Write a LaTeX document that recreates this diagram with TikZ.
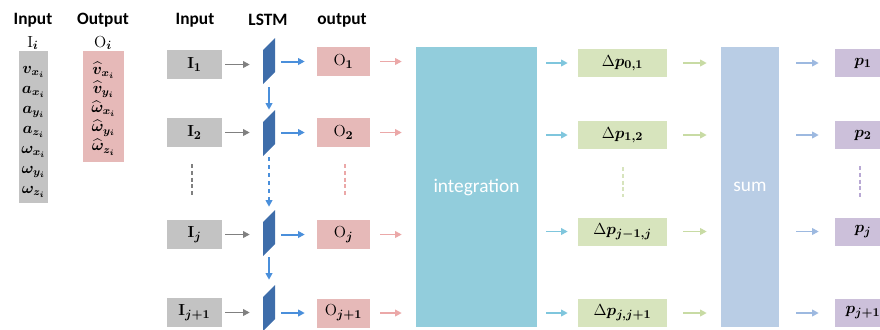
\documentclass[tikz,border=0pt]{standalone}
\usepackage{amsmath}
\usepackage{bm}
\usepackage[no-math]{fontspec}
\setmainfont{Carlito}
\usetikzlibrary{arrows.meta}

\definecolor{cgray}{HTML}{C3C3C3}
\definecolor{cpink}{HTML}{E6B9B8}
\definecolor{clstm}{HTML}{3E6DAA}
\definecolor{cinteg}{HTML}{92CDDC}
\definecolor{cgreen}{HTML}{D7E4BD}
\definecolor{csum}{HTML}{B9CDE5}
\definecolor{cpurple}{HTML}{CCC0DA}
\definecolor{agray}{HTML}{808080}
\definecolor{ablue}{HTML}{4A8FDB}
\definecolor{apink}{HTML}{EBA8A8}
\definecolor{acyan}{HTML}{7FC6DD}
\definecolor{agreen}{HTML}{C8DBA4}
\definecolor{alblue}{HTML}{9DB9E0}
\definecolor{dpurple}{HTML}{B8A8D4}

\tikzset{
  txt/.style={font=\fontsize{12.5}{14}\selectfont},
  head/.style={font=\bfseries\fontsize{13}{15}\selectfont},
  box/.style={txt, inner sep=0pt, minimum height=21.75pt},
  ibox/.style={box, fill=cgray, minimum width=41.25pt},
  obox/.style={box, fill=cpink, minimum width=39.75pt},
  dbox/.style={box, fill=cgreen, minimum width=66.75pt, minimum height=21pt},
  pbox/.style={box, fill=cpurple, minimum width=42pt, minimum height=21pt},
  bigbox/.style={inner sep=0pt, minimum height=210pt, text=white,
    font=\fontsize{14.5}{17}\selectfont},
  lstm/.style={inner sep=0pt, minimum width=9pt, minimum height=34.5pt,
    path picture={\fill[clstm] (path picture bounding box.south west)
      -- ++(0,25.5pt) -- (path picture bounding box.north east)
      -- ++(0,-25.5pt) -- cycle;}},
  arr/.style={line width=1.2pt, -{Triangle[length=5pt,width=5pt]}},
  garr/.style={arr, agray, shorten <=2.25pt, shorten >=9.75pt},
  barr/.style={arr, ablue, line width=1.5pt, shorten <=4.5pt, shorten >=9pt},
  parr/.style={arr, apink, shorten <=7.5pt, shorten >=10.5pt},
  carr/.style={arr, acyan, shorten <=6.75pt, shorten >=7.5pt},
  grarr/.style={arr, agreen, shorten <=12pt, shorten >=10.5pt},
  lbarr/.style={arr, alblue, shorten <=12.75pt, shorten >=12pt},
  varr/.style={arr, ablue, line width=1.5pt},
  dline/.style={line width=1.5pt, dash pattern=on 3pt off 2pt},
  varlist/.style={anchor=base, inner sep=0pt},
}

\begin{document}
\begin{tikzpicture}[x=0.75pt, y=-0.75pt]
\useasboundingbox (0,0) rectangle (880,329);

% ---- variable lists ----
\node[head] (hin) at (33,20) {Input};
\node[txt] (hini) at (33,43) {$\mathrm{I}_{\bm{i}}$};
\node[head] (hout) at (103,20) {Output};
\node[txt] (houti) at (103,43) {$\mathrm{O}_{\bm{i}}$};

\node[fill=cgray, inner sep=0pt, minimum width=21.75pt, minimum height=114pt] (inlist) at (33.5,127) {};
\node[fill=cpink, inner sep=0pt, minimum width=30.75pt, minimum height=83.25pt] (outlist) at (103.5,106.5) {};

\node[varlist, font=\fontsize{12}{15}\selectfont] (invars) at (33.5,73)
  {\begin{tabular}[t]{@{}c@{}}
    $\bm{v_{x_i}}$\\ $\bm{a_{x_i}}$\\ $\bm{a_{y_i}}$\\ $\bm{a_{z_i}}$\\
    $\bm{\omega_{x_i}}$\\ $\bm{\omega_{y_i}}$\\ $\bm{\omega_{z_i}}$
  \end{tabular}};
\node[varlist, font=\fontsize{12}{14.4}\selectfont] (outvars) at (103.5,74)
  {\begin{tabular}[t]{@{}c@{}}
    $\widehat{\bm{v}}_{\bm{x_i}}$\\ $\widehat{\bm{v}}_{\bm{y_i}}$\\
    $\widehat{\bm{\omega}}_{\bm{x_i}}$\\ $\widehat{\bm{\omega}}_{\bm{y_i}}$\\
    $\widehat{\bm{\omega}}_{\bm{z_i}}$
  \end{tabular}};

% ---- column headers ----
\node[head] (hI) at (195,20) {Input};
\node[head] (hL) at (268,20) {LSTM};
\node[head] (hO) at (342,20) {output};

% ---- inputs ----
\node[ibox] (i1) at (194.5,64.5)  {$\mathbf{I}_{\mathbf{1}}$};
\node[ibox] (i2) at (194.5,132.5) {$\mathbf{I}_{\mathbf{2}}$};
\node[ibox] (ij) at (194.5,234.5) {$\mathbf{I}_{\bm{j}}$};
\node[ibox] (ik) at (194.5,312.5) {$\mathbf{I}_{\bm{j+1}}$};

% ---- LSTM cells ----
\node[lstm] (l1) at (269,61)  {};
\node[lstm] (l2) at (269,133) {};
\node[lstm] (lj) at (269,233) {};
\node[lstm] (lk) at (269,308) {};

% ---- network outputs ----
\node[obox] (o1) at (343.5,61.5)  {$\mathrm{O}_{\bm{1}}$};
\node[obox] (o2) at (343.5,132.5) {$\mathrm{O}_{\bm{2}}$};
\node[obox] (oj) at (343.5,234.5) {$\mathrm{O}_{\bm{j}}$};
\node[obox] (ok) at (343.5,313)   {$\mathrm{O}_{\bm{j+1}}$};

% ---- integration and summation ----
\node[bigbox, fill=cinteg, minimum width=90.75pt] (integ) at (476.5,187) {integration};
\node[bigbox, fill=csum, minimum width=43.5pt] (sum) at (750,187) {sum};

\node[dbox] (d1) at (622.5,63)    {$\Delta\bm{p}_{\bm{0,1}}$};
\node[dbox] (d2) at (622.5,135)   {$\Delta\bm{p}_{\bm{1,2}}$};
\node[dbox] (dj) at (622.5,231.5) {$\Delta\bm{p}_{\bm{j-1,j}}$};
\node[dbox] (dk) at (622.5,313)   {$\Delta\bm{p}_{\bm{j,j+1}}$};

\node[pbox] (p1) at (863,63)    {$\bm{p}_{\bm{1}}$};
\node[pbox] (p2) at (863,135)   {$\bm{p}_{\bm{2}}$};
\node[pbox] (pj) at (863,231.5) {$\bm{p}_{\bm{j}}$};
\node[pbox] (pk) at (863,313)   {$\bm{p}_{\bm{j+1}}$};

% ---- row connectors ----
\foreach \r in {1,2,j,k}{
  \draw[garr] (i\r.east) -- (l\r.west |- i\r.east);
  \draw[barr] (l\r.east |- o\r.west) -- (o\r.west);
  \draw[parr] (o\r.east) -- (integ.west |- o\r.east);
  \draw[carr] (integ.east |- d\r.west) -- (d\r.west);
  \draw[grarr] (d\r.east) -- (sum.west |- d\r.east);
  \draw[lbarr] (sum.east |- p\r.west) -- (p\r.west);
}

% ---- recurrent links ----
\draw[varr, shorten <=2.25pt] (l1.south) -- (l2.north);
\draw[varr, dashed, shorten <=0.75pt, shorten >=2.25pt] (l2.south) -- (lj.north);
\draw[varr, shorten <=0.75pt, shorten >=3.75pt] (lj.south) -- (lk.north);

% ---- ellipsis marks ----
\draw[dline, agray, shorten <=12.75pt, shorten >=18pt] ([xshift=-1.9pt]i2.south) -- ([xshift=-1.9pt]ij.north);
\draw[dline, apink, shorten <=12.75pt, shorten >=18.75pt] ([xshift=1.1pt]o2.south) -- ([xshift=1.1pt]oj.north);
\draw[dline, cgreen, shorten <=13.5pt, shorten >=15pt] (d2.south) -- (dj.north);
\draw[dline, dpurple, shorten <=12.75pt, shorten >=15pt] ([xshift=-2.25pt]p2.south) -- ([xshift=-2.25pt]pj.north);
\end{tikzpicture}
\end{document}
